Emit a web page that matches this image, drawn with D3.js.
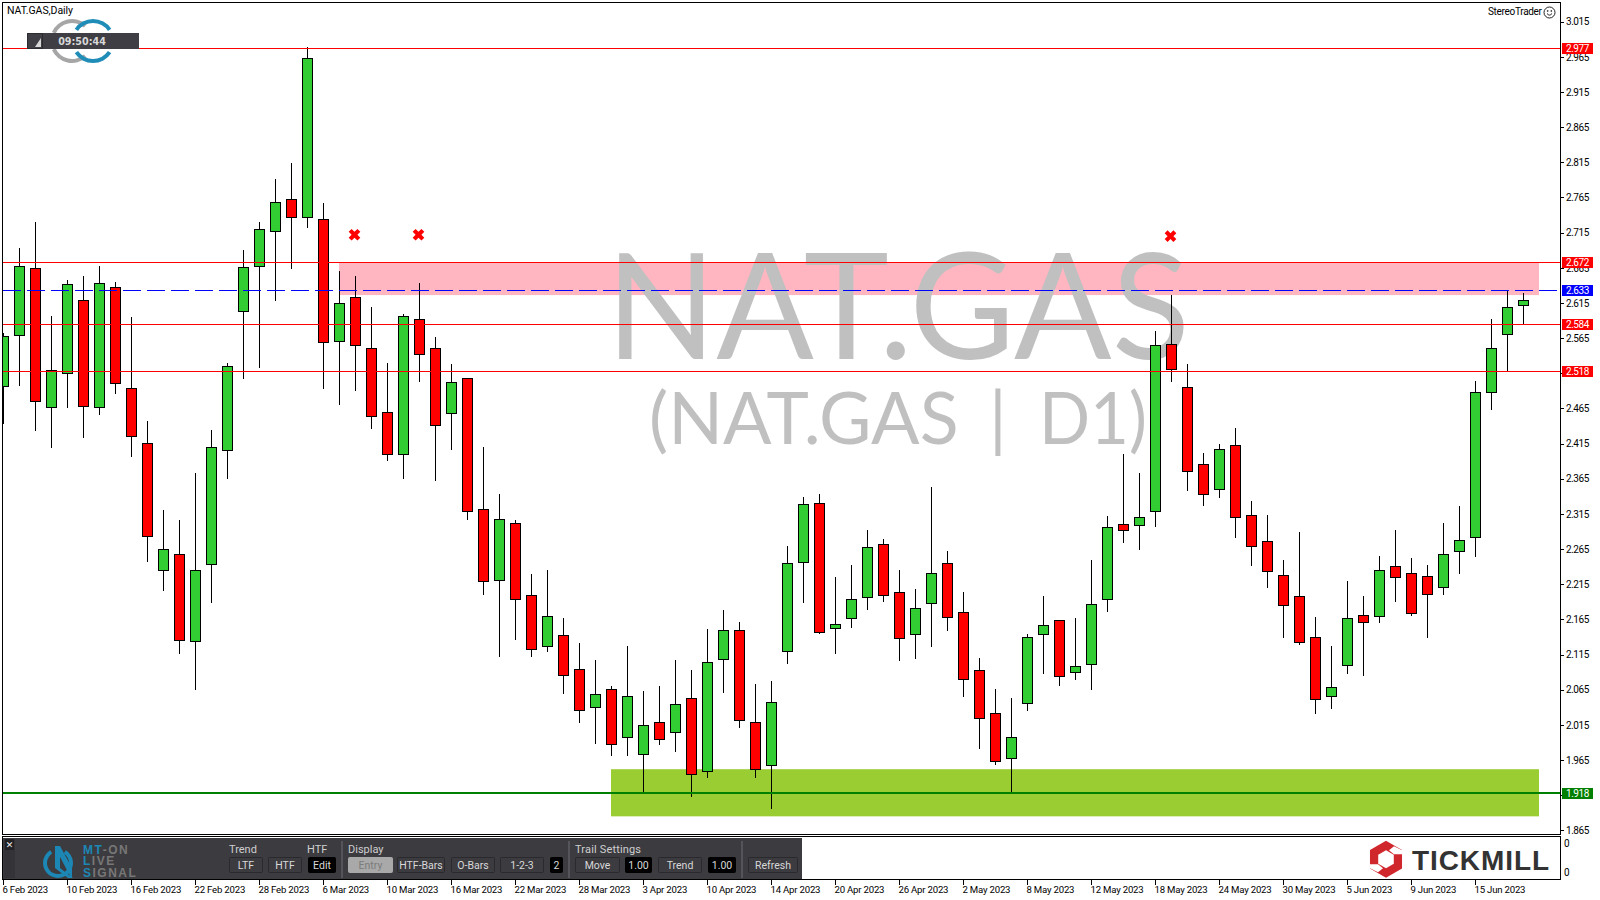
<!DOCTYPE html>
<html><head><meta charset="utf-8">
<script src="https://cdn.jsdelivr.net/npm/d3@7/dist/d3.min.js"></script>
<style>
html,body{margin:0;padding:0;background:#fff;overflow:hidden}
svg{display:block}
text{font-family:"Liberation Sans",sans-serif}
</style></head><body>
<svg id="c" width="1600" height="900"></svg>
<script>
const opens=[2.496,2.569,2.664,2.466,2.515,2.619,2.466,2.637,2.493,2.415,2.235,2.257,2.134,2.243,2.405,2.603,2.667,2.717,2.762,2.737,2.734,2.560,2.623,2.550,2.459,2.400,2.592,2.550,2.458,2.508,2.321,2.220,2.302,2.199,2.127,2.142,2.094,2.040,2.065,1.997,1.973,2.019,2.004,2.053,1.949,2.108,2.149,2.019,1.957,2.119,2.246,2.330,2.152,2.166,2.196,2.272,2.203,2.144,2.188,2.245,2.175,2.093,2.031,1.967,2.046,2.144,2.164,2.090,2.101,2.193,2.300,2.299,2.319,2.556,2.495,2.385,2.350,2.412,2.313,2.276,2.228,2.198,2.139,2.056,2.100,2.171,2.169,2.240,2.230,2.226,2.211,2.262,2.282,2.488,2.570,2.612];
const highs=[2.572,2.693,2.730,2.596,2.647,2.653,2.667,2.644,2.595,2.447,2.320,2.305,2.372,2.434,2.529,2.690,2.730,2.790,2.814,2.978,2.757,2.660,2.653,2.609,2.529,2.599,2.643,2.566,2.527,2.508,2.410,2.343,2.306,2.229,2.234,2.167,2.131,2.106,2.070,2.127,2.063,2.070,2.107,2.093,2.150,2.177,2.161,2.072,2.077,2.268,2.339,2.343,2.225,2.241,2.292,2.278,2.235,2.208,2.353,2.261,2.204,2.110,2.066,2.053,2.144,2.198,2.164,2.167,2.249,2.312,2.400,2.373,2.575,2.625,2.528,2.401,2.414,2.437,2.332,2.313,2.249,2.288,2.168,2.127,2.219,2.198,2.255,2.292,2.252,2.241,2.302,2.325,2.504,2.591,2.633,2.629];
const lows=[2.444,2.497,2.433,2.410,2.466,2.423,2.456,2.486,2.396,2.247,2.206,2.116,2.065,2.189,2.366,2.507,2.523,2.618,2.664,2.722,2.494,2.470,2.490,2.437,2.391,2.365,2.503,2.362,2.406,2.307,2.200,2.112,2.136,2.112,2.120,2.059,2.018,1.988,1.971,1.971,1.919,1.987,1.977,1.913,1.940,2.061,2.011,1.940,1.896,2.102,2.189,2.145,2.116,2.153,2.179,2.190,2.106,2.109,2.127,2.149,2.055,1.981,1.958,1.919,2.035,2.088,2.071,2.079,2.065,2.176,2.275,2.264,2.297,2.503,2.349,2.327,2.338,2.282,2.241,2.211,2.139,2.129,2.031,2.038,2.088,2.085,2.160,2.191,2.170,2.139,2.201,2.230,2.254,2.463,2.518,2.585];
const closes=[2.568,2.667,2.475,2.519,2.641,2.468,2.643,2.501,2.425,2.283,2.265,2.135,2.235,2.410,2.525,2.666,2.720,2.758,2.737,2.963,2.559,2.614,2.555,2.454,2.400,2.596,2.542,2.441,2.502,2.319,2.219,2.307,2.193,2.122,2.169,2.085,2.036,2.058,1.987,2.056,2.014,1.994,2.044,1.945,2.104,2.149,2.021,1.952,2.047,2.245,2.329,2.147,2.158,2.193,2.267,2.199,2.138,2.181,2.230,2.168,2.080,2.024,1.963,1.997,2.139,2.156,2.084,2.098,2.186,2.296,2.292,2.310,2.555,2.520,2.375,2.343,2.407,2.310,2.269,2.233,2.185,2.132,2.051,2.068,2.166,2.161,2.235,2.225,2.174,2.201,2.257,2.277,2.488,2.550,2.609,2.619];
const dateLabels=["6 Feb 2023","10 Feb 2023","16 Feb 2023","22 Feb 2023","28 Feb 2023","6 Mar 2023","10 Mar 2023","16 Mar 2023","22 Mar 2023","28 Mar 2023","3 Apr 2023","10 Apr 2023","14 Apr 2023","20 Apr 2023","26 Apr 2023","2 May 2023","8 May 2023","12 May 2023","18 May 2023","24 May 2023","30 May 2023","5 Jun 2023","9 Jun 2023","15 Jun 2023"];
const priceTicks=[3.015,2.965,2.915,2.865,2.815,2.765,2.715,2.665,2.615,2.565,2.515,2.465,2.415,2.365,2.315,2.265,2.215,2.165,2.115,2.065,2.015,1.965,1.915,1.865];
const levelValues=[2.977,2.672,2.584,2.518];
const askValue=2.633, bidValue=1.918;
const pinkZone=[2.672,2.625], greenZone=[1.952,1.885];
const markIndex=[22,26,73], markPrice=[2.712,2.712,2.710];

const svg=d3.select("#c");
const x=d3.scaleLinear().domain([0,95]).range([3.5,1523.5]);
const y=d3.scaleLinear().domain([2.977,1.865]).range([48.4,830.4]);
const snap=v=>Math.floor(v)+0.5;
const L=2.5,R=1560.5,T=2.5,B=834.5;

svg.append("defs").append("clipPath").attr("id","plot").append("rect").attr("x",L).attr("y",T).attr("width",R-L).attr("height",B-T);
const plot=svg.append("g").attr("clip-path","url(#plot)");

// zones
const zoneEnd=1539;
plot.append("rect").attr("x",339).attr("width",zoneEnd-339).attr("y",Math.floor(y(pinkZone[0]))).attr("height",y(pinkZone[1])-y(pinkZone[0])).attr("fill","#ffb6c1");
plot.append("rect").attr("x",611).attr("width",zoneEnd-611).attr("y",y(greenZone[0])).attr("height",y(greenZone[1])-y(greenZone[0])).attr("fill","#9acd32");

// watermark
plot.append("text").text("NAT.GAS").attr("x",606).attr("y",359).attr("font-size",148).attr("textLength",584).attr("lengthAdjust","spacingAndGlyphs").attr("fill","#c0c0c0").style("font-family","Lato");
const wm2=plot.append("text").attr("y",444).attr("font-size",71).attr("fill","#c0c0c0").style("font-family","Lato");
wm2.append("tspan").text("(NAT.GAS ").attr("x",649).attr("textLength",328).attr("lengthAdjust","spacingAndGlyphs");
wm2.append("tspan").text("| ").attr("x",989);
wm2.append("tspan").text("D1)").attr("x",1039).attr("textLength",108).attr("lengthAdjust","spacingAndGlyphs");

// candles
const candles=opens.map((o,i)=>({i,o,h:highs[i],l:lows[i],c:closes[i]}));
const g=plot.append("g").attr("shape-rendering","crispEdges");
const cg=g.selectAll("g").data(candles).join("g");
cg.append("line").attr("x1",d=>x(d.i)).attr("x2",d=>x(d.i)).attr("y1",d=>Math.floor(y(d.h))).attr("y2",d=>Math.ceil(y(d.l))).attr("stroke","#000");
cg.append("rect").attr("x",d=>x(d.i)-5).attr("width",10)
  .attr("y",d=>snap(y(Math.max(d.o,d.c))))
  .attr("height",d=>snap(y(Math.min(d.o,d.c)))-snap(y(Math.max(d.o,d.c))))
  .attr("fill",d=>d.c>=d.o?"#32cd32":"#ff0000").attr("stroke","#000");

// levels
const lv=plot.append("g").attr("shape-rendering","crispEdges");
lv.selectAll("line.r").data(levelValues).join("line").attr("class","r").attr("x1",L).attr("x2",R).attr("y1",d=>snap(y(d))).attr("y2",d=>snap(y(d))).attr("stroke","#ff0000");
lv.append("line").attr("x1",3).attr("x2",R).attr("y1",snap(y(askValue))).attr("y2",snap(y(askValue))).attr("stroke","#0000ff").attr("stroke-dasharray","18 6");
lv.append("line").attr("x1",L).attr("x2",R).attr("y1",Math.floor(y(bidValue))).attr("y2",Math.floor(y(bidValue))).attr("stroke","#008000").attr("stroke-width",2);

// x marks
plot.selectAll("path.m").data(markIndex).join("path").attr("class","m")
  .attr("d",d3.symbol().type(d3.symbolCross).size(85))
  .attr("transform",(d,i)=>`translate(${x(d)-1},${y(markPrice[i])}) rotate(45) `)
  .attr("fill","#ff0000");

// frame
const frame=svg.append("g").attr("shape-rendering","crispEdges").attr("stroke","#000").attr("fill","none");
frame.append("rect").attr("x",L).attr("y",T).attr("width",R-L).attr("height",B-T);
frame.append("rect").attr("x",L).attr("y",836.5).attr("width",R-L).attr("height",879.5-836.5);

// right axis
const axR=d3.axisRight(y).tickValues(priceTicks).tickSize(3).tickPadding(2).tickFormat(d3.format(".3f"));
const ar=svg.append("g").attr("transform",`translate(${R},0)`).call(axR);
ar.select(".domain").remove();
ar.selectAll("line").attr("stroke","#000").attr("shape-rendering","crispEdges");
ar.selectAll("text").attr("font-size",10).attr("fill","#000").attr("x",5.5).style("font-family","Roboto").style("letter-spacing","-0.45px");

// price boxes
const boxes=[[2.977,"#ff0000"],[2.672,"#ff0000"],[2.584,"#ff0000"],[2.518,"#ff0000"],[askValue,"#0000ff"],[bidValue,"#008000"]];
const bg=svg.append("g");
boxes.forEach(([v,col])=>{
  const yy=Math.floor(y(v));
  bg.append("rect").attr("x",1562).attr("y",yy-5).attr("width",31).attr("height",11).attr("fill",col);
  bg.append("text").text(d3.format(".3f")(v)).attr("x",1566).attr("y",yy+4).attr("font-size",10).attr("fill","#fff").style("font-family","Roboto").style("letter-spacing","-0.45px");
});

// bottom axis
const tickIdx=dateLabels.map((_,i)=>i*4);
const axB=d3.axisBottom(x).tickValues(tickIdx).tickSize(5).tickPadding(3).tickFormat((d,i)=>dateLabels[i]);
const ab=svg.append("g").attr("transform","translate(0,879.5)").call(axB);
ab.select(".domain").remove();
ab.selectAll("line").attr("stroke","#000").attr("shape-rendering","crispEdges").attr("transform","translate(-0.5,0)");
ab.selectAll("text").attr("text-anchor","start").attr("x",-1.5).attr("y",7).attr("font-size",9.6).attr("fill","#000").style("font-family","Roboto").style("letter-spacing","-0.2px");

// lower pane right labels
[847,876].forEach(b=>svg.append("text").text("0").attr("x",1564).attr("y",b).attr("font-size",10).attr("fill","#000").style("font-family","Roboto"));

// header text
svg.append("text").text("NAT.GAS,Daily").attr("x",7).attr("y",14).attr("font-size",10.5).attr("fill","#000").style("font-family","Roboto").style("letter-spacing","-0.05px");
svg.append("text").text("StereoTrader").attr("x",1488).attr("y",15).attr("font-size",10).attr("fill","#000").attr("textLength",54).style("font-family","Roboto");
const sm=svg.append("g").attr("transform","translate(1549.5,12.5)").attr("fill","none").attr("stroke","#222");
sm.append("circle").attr("r",5.5);
sm.append("path").attr("d","M-2.5,1 Q0,4.2 2.5,1");
sm.append("circle").attr("cx",-1.8).attr("cy",-1.5).attr("r",0.5);
sm.append("circle").attr("cx",1.8).attr("cy",-1.5).attr("r",0.5);

// ring logo + clock
const ring=(cx,col,a0,a1)=>{
  const arc=d3.arc().innerRadius(18).outerRadius(22);
  [[a0,a1],[Math.PI-a1,Math.PI-a0]].forEach(([s,e])=>svg.append("path").attr("transform",`translate(${cx},41)`).attr("d",arc({startAngle:s,endAngle:e})).attr("fill",col));
};
ring(72,"#a6a6a6",-1.15,0.72);
ring(93,"#1f8db8",-0.98,0.98);
svg.append("rect").attr("x",27).attr("y",33).attr("width",112).attr("height",16).attr("fill","#3f3e44");
svg.append("rect").attr("x",27.5).attr("y",33.5).attr("width",15).attr("height",15).attr("fill","#403f45").attr("stroke","#2c2c30");
svg.append("path").attr("d","M41,38 V47 H35 Z").attr("fill","#d8d8d8");
svg.append("text").text("09:50:44").attr("x",82).attr("y",44.5).attr("text-anchor","middle").attr("font-size",9.6).attr("font-weight","bold").attr("fill","#d8d8d8").style("font-family","DejaVu Sans");

// control panel
const p=svg.append("g");
p.append("rect").attr("x",3).attr("y",838).attr("width",799).attr("height",41).attr("fill","#3c3b40");
p.append("rect").attr("x",4).attr("y",839).attr("width",11).attr("height",39).attr("fill","#343338");
p.append("rect").attr("x",5).attr("y",839).attr("width",9).attr("height",11).attr("fill","#222125");
p.append("text").text("✕").attr("x",9.5).attr("y",848).attr("text-anchor","middle").attr("font-size",9).attr("font-weight","bold").attr("fill","#eee").style("font-family","DejaVu Sans");
// small brand
const brand=p.append("g");
brand.append("path").attr("d",d3.arc().innerRadius(11).outerRadius(15)({startAngle:0.55,endAngle:2*Math.PI-0.55})).attr("transform","translate(58,863)").attr("fill","#1c87b5");
brand.append("path").attr("d","M55,846 L60,846 L60,868 L73,878 L68,878 L55,868 Z M60,846 L72,868 L72,878 L69,874 L58,853 Z").attr("fill","#1c87b5");
[["MT","-ON",853.5],["L","IVE",865],["S","IGNAL",876.5]].forEach(([a,b,yy])=>{
  const t=brand.append("text").attr("x",83).attr("y",yy).attr("font-size",12).attr("font-weight","bold").style("letter-spacing","1.5px");
  t.append("tspan").text(a).attr("fill","#1c87b5");
  t.append("tspan").text(b).attr("fill","#777");
});
const lab=(s,xx)=>p.append("text").text(s).attr("x",xx).attr("y",852.5).attr("font-size",11).attr("fill","#cfcfcf").style("font-family","Roboto");
lab("Trend",229);lab("HTF",307);lab("Display",348);lab("Trail Settings",575).attr("textLength",66);
const sep=xx=>p.append("rect").attr("x",xx).attr("y",841).attr("width",2).attr("height",37).attr("fill","#55545a");
sep(341);sep(568);sep(741);
const btn=(x0,x1,s,kind)=>{
  const fill=kind==="black"?"#000":kind==="on"?"#a9a9a9":"#3c3b40";
  const stroke=kind==="black"?"#000":kind==="on"?"#a9a9a9":"#2a292d";
  p.append("rect").attr("x",x0+0.5).attr("y",857.5).attr("width",x1-x0-1).attr("height",15).attr("rx",1).attr("fill",fill).attr("stroke",stroke);
  p.append("text").text(s).attr("x",(x0+x1)/2).attr("y",868.5).attr("text-anchor","middle").attr("font-size",10.5).attr("fill",kind==="on"?"#7c7c7c":"#d8d8d8").style("font-family","Roboto");
};
btn(229,263,"LTF");btn(268,302,"HTF");btn(308,336,"Edit","black");
btn(348,393,"Entry","on");btn(397,445,"HTF-Bars");btn(451,495,"O-Bars");btn(500,544,"1-2-3");btn(550,563,"2","black");
btn(575,620,"Move");btn(625,652,"1.00","black");btn(658,702,"Trend");btn(708,736,"1.00","black");btn(748,798,"Refresh");

// tickmill
const tm=svg.append("g").attr("transform","translate(1386,859.3)");
const hex=(r)=>d3.range(6).map(k=>{const a=Math.PI/3*k;return [r*Math.sin(a),-r*Math.cos(a)];});
const poly=pts=>"M"+pts.map(q=>q.join(",")).join("L")+"Z";
tm.append("path").attr("d",poly(hex(18.5))).attr("fill","#d0272d");
tm.append("path").attr("d",poly(hex(9))).attr("fill","#fff");
tm.append("path").attr("d","M3,-9 L8,-13 L16,-9 L16,-5 L8,-5 Z").attr("fill","#fff");
tm.append("path").attr("d","M-3,9 L-8,13 L-16,9 L-16,5 L-8,5 Z").attr("fill","#fff");
svg.append("text").text("TICKMILL").attr("x",1412).attr("y",869.5).attr("font-size",28).attr("font-weight","bold").attr("fill","#333").attr("textLength",137).attr("lengthAdjust","spacing");
</script>
</body></html>
